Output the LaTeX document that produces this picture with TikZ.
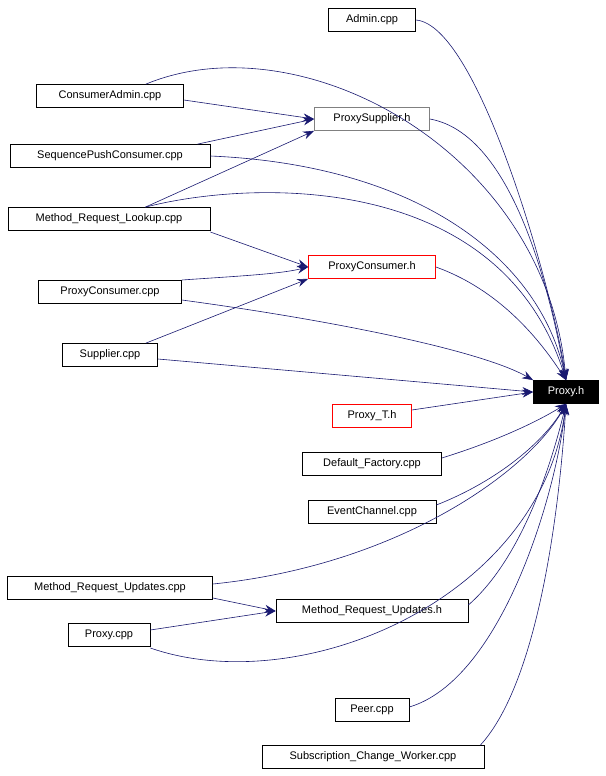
\documentclass[tikz,border=0pt]{standalone}
\usepackage{fontspec}
\setmainfont{Liberation Sans}
\usetikzlibrary{arrows.meta}
\definecolor{edge}{HTML}{191970}
\begin{document}
\begin{tikzpicture}[x=1pt,y=-1pt,
  box/.style={draw=black,fill=white,minimum height=23pt,inner xsep=0pt,font=\fontsize{11}{13}\selectfont,line width=0.7pt},
  red/.style={box,draw=red},
  e/.style={draw=edge,line width=0.6pt,-{Stealth[length=11pt,width=8pt]}}]
\useasboundingbox (0,0) rectangle (605,776);
\node[box,minimum width=87pt] (admin) at (372,20) {Admin.cpp};
\node[box,minimum width=147pt] (ca) at (110,96) {ConsumerAdmin.cpp};
\node[box,draw=gray,minimum width=115pt] (ps) at (372,119) {ProxySupplier.h};
\node[box,minimum width=200pt] (spc) at (110,156) {SequencePushConsumer.cpp};
\node[box,minimum width=202pt] (mrl) at (109,219) {Method\_Request\_Lookup.cpp};
\node[red,minimum width=127pt] (pch) at (372,267) {ProxyConsumer.h};
\node[box,minimum width=143pt] (pcc) at (110,292) {ProxyConsumer.cpp};
\node[box,minimum width=95pt] (sup) at (110,355) {Supplier.cpp};
\node[box,fill=black,text=white,minimum width=65pt] (ph) at (566,392) {Proxy.h};
\node[red,minimum width=79pt] (pt) at (372,416) {Proxy\_T.h};
\node[box,minimum width=139pt] (df) at (372,464) {Default\_Factory.cpp};
\node[box,minimum width=128pt] (ec) at (372,512) {EventChannel.cpp};
\node[box,minimum width=205pt] (mruc) at (110,588) {Method\_Request\_Updates.cpp};
\node[box,minimum width=192pt] (mruh) at (372,611) {Method\_Request\_Updates.h};
\node[box,minimum width=82pt] (pc) at (109,635) {Proxy.cpp};
\node[box,minimum width=74pt] (peer) at (372,710) {Peer.cpp};
\node[box,minimum width=222pt] (scw) at (373,757) {Subscription\_Change\_Worker.cpp};
% long edges
\draw[e] (admin.east) .. controls (480,25) and (555,300) .. (ph.north);
\draw[e] (ca.north east) ++(-38,0) .. controls (300,20) and (545,150) .. (ph.north);
\draw[e] (ps.east) .. controls (520,135) and (555,320) .. (ph.north);
\draw[e] (spc.east) .. controls (420,165) and (540,260) .. (ph.north);
\draw[e] (mrl.north east) ++(-65,0) .. controls (250,180) and (500,170) .. (ph.north);
\draw[e] (pch.east) .. controls (500,290) and (540,340) .. (ph.north);
\draw[e] (pcc.east) ++(0,8) .. controls (330,320) and (480,350) .. (ph.north west);
\draw[e] (sup.east) ++(0,4) -- (ph.west);
\draw[e] (pt.east) ++(0,-6) -- (ph.west);
\draw[e] (df.east) ++(0,-6) .. controls (500,440) and (540,420) .. (ph.south);
\draw[e] (ec.east) ++(0,-7) .. controls (500,480) and (545,440) .. (ph.south);
\draw[e] (mruc.east) ++(0,-4) .. controls (400,565) and (530,470) .. (ph.south);
\draw[e] (mruh.east) ++(0,-6) .. controls (520,560) and (550,470) .. (ph.south);
\draw[e] (pc.east) ++(0,13) .. controls (300,700) and (540,600) .. (ph.south);
\draw[e] (peer.east) ++(0,-3) .. controls (500,680) and (555,500) .. (ph.south);
\draw[e] (scw.north east) ++(-4,0) .. controls (540,680) and (560,500) .. (ph.south);
% short edges
\draw[e] (ca.east) ++(0,4) -- (ps.west);
\draw[e] (spc.north east) ++(-13,0) -- (ps.west);
\draw[e] (mrl.north east) ++(-65,0) -- (ps.south west);
\draw[e] (mrl.east) ++(0,13) -- (pch.west);
\draw[e] (pcc.east) ++(0,-12) .. controls (240,276) and (280,274) .. (pch.west);
\draw[e] (sup.north east) ++(-12,0) -- (pch.south west);
\draw[e] (mruc.east) ++(0,10) -- (mruh.west);
\draw[e] (pc.east) ++(0,-5) -- (mruh.west);
\end{tikzpicture}
\end{document}
